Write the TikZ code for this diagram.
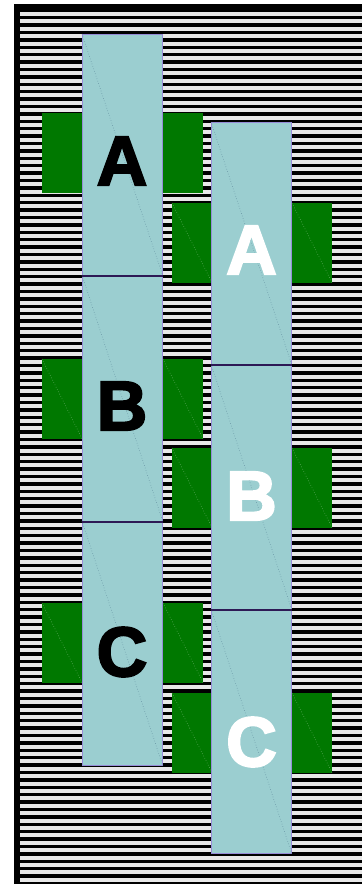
\documentclass[tikz,border=0pt]{standalone}
\usepackage{fontspec}
\newfontfamily\lettfont[BoldFeatures={FakeBold=3}]{Liberation Sans}
\definecolor{blueC}{RGB}{155,206,208}
\definecolor{greenC}{RGB}{0,120,0}
\definecolor{outlineC}{RGB}{150,140,215}
\definecolor{sepC}{RGB}{45,25,85}
\definecolor{stripeC}{RGB}{232,232,232}
\definecolor{bdiagC}{RGB}{105,150,165}
\definecolor{gdiagC}{RGB}{95,170,95}
\tikzset{
  blk/.style={fill=blueC, draw=outlineC, line width=0.8pt, minimum width=80pt, inner sep=0pt, anchor=north west},
  grn/.style={fill=greenC, minimum width=40pt, minimum height=80pt, inner sep=0pt, anchor=north west},
  bdiag/.style={draw=bdiagC, dotted, line width=0.6pt},
  gdiag/.style={draw=gdiagC, dotted, line width=0.6pt},
  sepline/.style={draw=sepC, line width=1.4pt},
  stripe/.style={fill=stripeC},
  letblack/.style={font=\lettfont\bfseries\fontsize{70}{70}\selectfont, text=black, inner sep=0pt},
  letwhite/.style={font=\lettfont\bfseries\fontsize{70}{70}\selectfont, text=white, inner sep=0pt},
}
\begin{document}
\begin{tikzpicture}[x=1pt,y=-1pt]
\useasboundingbox (0,0) rectangle (362,884);
% background
\fill[white] (0,0) rectangle (362,884);
\fill[black] (14,4) rectangle (362,884);
\foreach \i in {0,...,118} {
  \fill[stripe] (20,{12+\i*7.4}) rectangle (362,{16+\i*7.4});
}
% green squares, left column
\node[grn] (gLA1) at (42,113) {};
\node[grn] (gLA2) at (163,113) {};
\node[grn] (gLB1) at (42,359) {};
\node[grn] (gLB2) at (163,359) {};
\node[grn] (gLC1) at (42,603) {};
\node[grn] (gLC2) at (163,603) {};
% green squares, right column
\node[grn] (gRA1) at (172,203) {};
\node[grn] (gRA2) at (292,203) {};
\node[grn] (gRB1) at (172,448) {};
\node[grn] (gRB2) at (292,448) {};
\node[grn] (gRC1) at (172,693) {};
\node[grn] (gRC2) at (292,693) {};
\foreach \g in {gLB1,gLB2,gLC1,gLC2,gRA1,gRA2,gRB1,gRB2,gRC1,gRC2} {
  \draw[gdiag] (\g.north west) -- (\g.south east);
}
% blue blocks
\node[blk, minimum height=241pt] (LA) at (82,34) {};
\node[blk, minimum height=246pt] (LB) at (82,275) {};
\node[blk, minimum height=244pt] (LC) at (82,521) {};
\node[blk, minimum height=242pt] (RA) at (211,122) {};
\node[blk, minimum height=245pt] (RB) at (211,364) {};
\node[blk, minimum height=244pt] (RC) at (211,609) {};
\foreach \b in {LA,LB,LC,RA,RB,RC} {
  \draw[bdiag] (\b.north west) -- (\b.south east);
}
\draw[sepline] (LA.south west) -- (LA.south east);
\draw[sepline] (LB.south west) -- (LB.south east);
\draw[sepline] (RA.south west) -- (RA.south east);
\draw[sepline] (RB.south west) -- (RB.south east);
% letters
\node[letblack] (tLA) at (122,161) {A};
\node[letblack] (tLB) at (122,406) {B};
\node[letblack] (tLC) at (122,652) {C};
\node[letwhite] (tRA) at (251.5,250) {A};
\node[letwhite] (tRB) at (251.5,496) {B};
\node[letwhite] (tRC) at (251.5,742) {C};
\end{tikzpicture}
\end{document}
